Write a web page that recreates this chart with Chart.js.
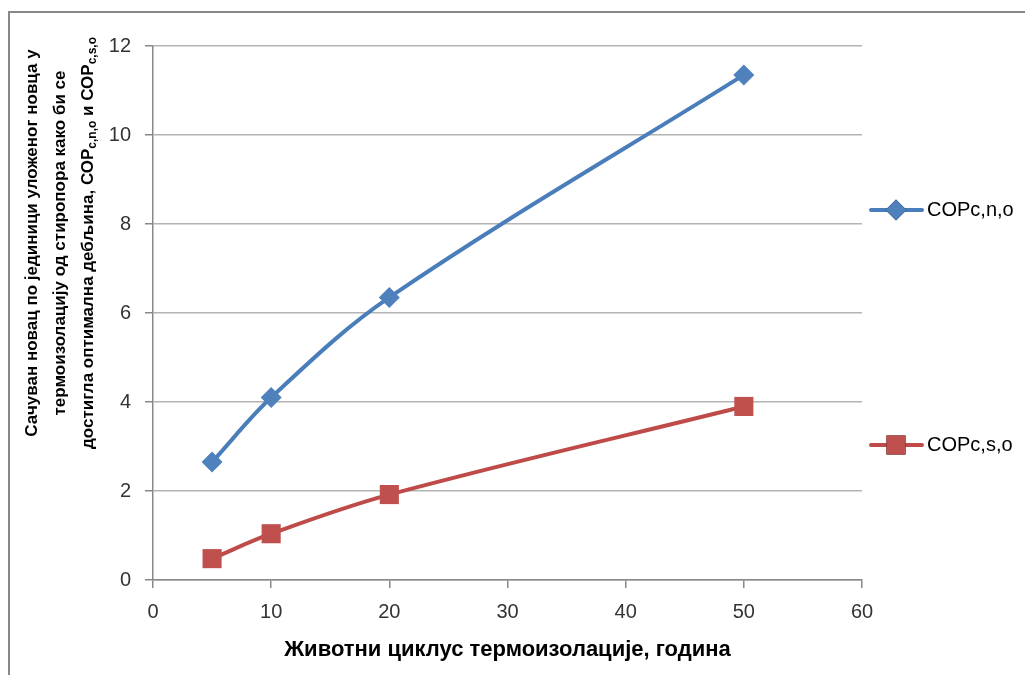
<!DOCTYPE html>
<html>
<head>
<meta charset="utf-8">
<script src="https://cdn.jsdelivr.net/npm/chart.js@4"></script>
<style>
  body { margin: 0; background: #fff; }
  #wrap { position: relative; width: 1025px; height: 675px; }
</style>
</head>
<body>
<div id="wrap"><canvas id="cop-chart" width="1025" height="675"></canvas></div>
<script>
const years = [5, 10, 20, 50];
const copCno = [2.65, 4.1, 6.35, 11.35];
const copCso = [0.48, 1.04, 1.92, 3.9];
const seriesNames = ["COPc,n,o", "COPc,s,o"];

const xTitle = "Животни циклус термоизолације, година";
// y title lines, split in [text, isSubscript] parts
const yTitleLines = [
    [["Сачуван новац по јединици уложеног новца у", false]],
    [["термоизолацију од стиропора како би се", false]],
    [["достигла оптимална дебљина, СОР", false], ["c,n,o", true], [" и СОР", false], ["c,s,o", true]]
];

const blue = '#4A7EBB';
const red = '#BE4B48';

// frame lines like the excel chart border
const framePlugin = {
    id: 'frame',
    beforeDraw(chart) {
        const c = chart.ctx;
        c.save();
        c.fillStyle = '#fff';
        c.fillRect(0, 0, chart.width, chart.height);
        c.strokeStyle = '#888';
        c.lineWidth = 2;
        c.beginPath();
        c.moveTo(9, chart.height);
        c.lineTo(9, 12);
        c.lineTo(chart.width, 12);
        c.stroke();
        c.restore();
    }
};

// rotated y title with subscripts
const yTitlePlugin = {
    id: 'yTitle',
    afterDraw(chart) {
        const c = chart.ctx;
        const mainFont = 'bold 17px "Liberation Sans"';
        const subFont = 'bold 12px "Liberation Sans"';
        const centerY = 243;
        const lineX = [32, 60, 88];
        c.save();
        c.fillStyle = '#000';
        c.textBaseline = 'middle';
        c.textAlign = 'left';
        yTitleLines.forEach((parts, i) => {
            let total = 0;
            parts.forEach(p => {
                c.font = p[1] ? subFont : mainFont;
                total += c.measureText(p[0]).width;
            });
            c.save();
            c.translate(lineX[i], centerY);
            c.rotate(-Math.PI / 2);
            let x = -total / 2;
            parts.forEach(p => {
                c.font = p[1] ? subFont : mainFont;
                c.fillText(p[0], x, p[1] ? 5 : 0);
                x += c.measureText(p[0]).width;
            });
            c.restore();
        });
        c.restore();
    }
};

// legend like excel: line with marker, spread on the right
const legendPlugin = {
    id: 'sideLegend',
    afterDraw(chart) {
        const c = chart.ctx;
        const itemY = [210, 445];
        const x0 = chart.chartArea.right + 9;
        c.save();
        chart.data.datasets.forEach((ds, i) => {
            const y = itemY[i];
            c.strokeStyle = ds.borderColor;
            c.lineWidth = 4;
            c.lineCap = 'round';
            c.beginPath();
            c.moveTo(x0, y);
            c.lineTo(x0 + 51, y);
            c.stroke();
            Chart.helpers.drawPoint(c, {
                pointStyle: ds.pointStyle,
                radius: ds.pointRadius,
                borderWidth: 0
            }, x0 + 25, y);
            c.fillStyle = ds.pointBackgroundColor;
            c.fill();
            c.fillStyle = '#000';
            c.font = '20px "Liberation Sans"';
            c.textBaseline = 'middle';
            c.fillText(ds.label, x0 + 56, y);
        });
        c.restore();
    }
};

const ctx = document.getElementById('cop-chart').getContext('2d');
const copChart = new Chart(ctx, {
    type: 'line',
    data: {
        datasets: [{
            label: seriesNames[0],
            data: years.map((x, i) => ({ x: x, y: copCno[i] })),
            borderColor: blue,
            backgroundColor: '#4F81BD',
            pointBackgroundColor: '#4F81BD',
            pointBorderWidth: 0,
            pointStyle: 'rectRot',
            pointRadius: 10.5,
            borderWidth: 4,
            tension: 0.35
        }, {
            label: seriesNames[1],
            data: years.map((x, i) => ({ x: x, y: copCso[i] })),
            borderColor: red,
            backgroundColor: '#C0504D',
            pointBackgroundColor: '#C0504D',
            pointBorderWidth: 0,
            pointStyle: 'rect',
            pointRadius: 13.5,
            borderWidth: 4,
            tension: 0.35
        }]
    },
    options: {
        responsive: false,
        animation: false,
        layout: { padding: { top: 46, right: 163, bottom: 0, left: 0 } },
        plugins: {
            legend: { display: false },
            tooltip: { enabled: false }
        },
        scales: {
            x: {
                type: 'linear',
                min: 0,
                max: 60,
                ticks: { stepSize: 10, color: '#333', padding: 12, font: { family: 'Liberation Sans', size: 20 } },
                grid: { drawOnChartArea: false, tickLength: 8, color: '#888', lineWidth: 1.5 },
                border: { color: '#888', width: 1.5 },
                title: {
                    display: true,
                    text: xTitle,
                    color: '#000',
                    font: { family: 'Liberation Sans', size: 22, weight: 'bold' },
                    padding: { top: 4, bottom: 12 }
                },
                afterFit(scale) { scale.height = 95; }
            },
            y: {
                min: 0,
                max: 12,
                ticks: { stepSize: 2, color: '#333', padding: 14, font: { family: 'Liberation Sans', size: 20 } },
                grid: { color: '#b4b4b4', lineWidth: 1.5, tickLength: 8, tickColor: '#888' },
                border: { color: '#888', width: 1.5 },
                afterFit(scale) { scale.width = 153; }
            }
        }
    },
    plugins: [framePlugin, yTitlePlugin, legendPlugin]
});
</script>
</body>
</html>
